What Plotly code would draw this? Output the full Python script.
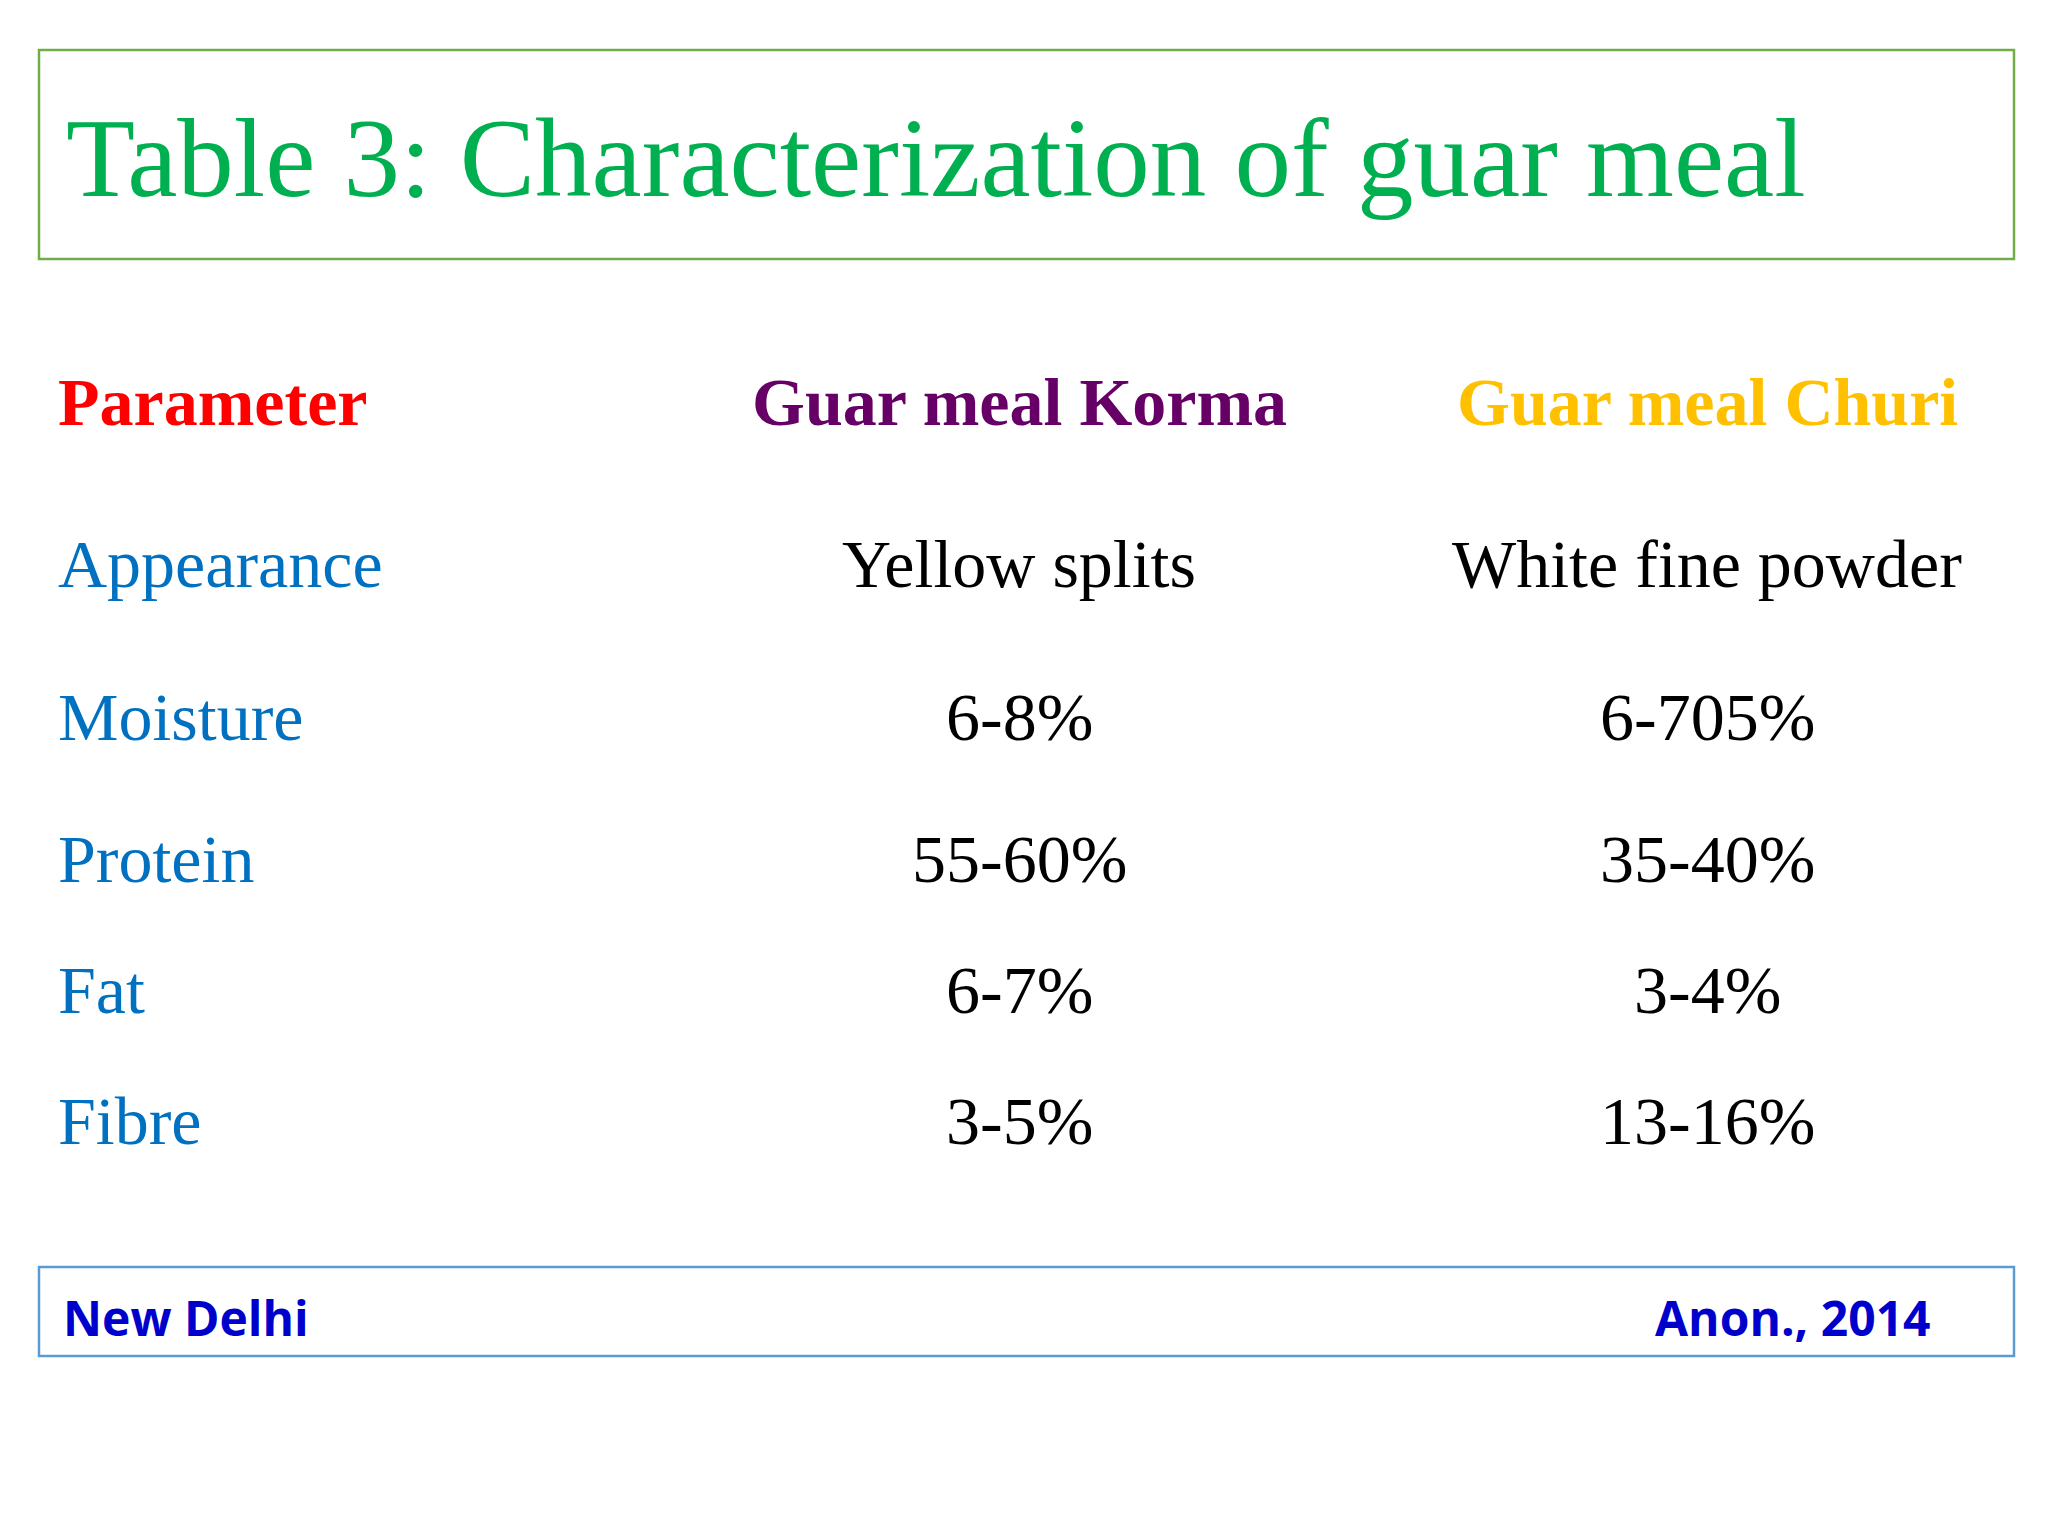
import plotly.graph_objects as go

title = "Table 3: Characterization of guar meal"
headers = ["Parameter", "Guar meal Korma", "Guar meal Churi"]
parameters = ["Appearance", "Moisture", "Protein", "Fat", "Fibre"]
korma = ["Yellow splits", "6-8%", "55-60%", "6-7%", "3-5%"]
churi = ["White fine powder", "6-705%", "35-40%", "3-4%", "13-16%"]
footer_left = "New Delhi"
footer_right = "Anon., 2014"

W, H = 2048, 1536
fig = go.Figure()
fig.add_trace(go.Scatter(x=[0], y=[0], mode="markers", marker=dict(opacity=0), hoverinfo="skip", showlegend=False))

serif = "Liberation Serif"
ann = []
ann.append(dict(x=56, y=149, text=title, xanchor="left", yanchor="middle",
                font=dict(family=serif, size=113, color="#00B050")))
hcols = ["#FF0000", "#660066", "#FFC000"]
hx = [48, 1011, 1699]
hanc = ["left", "center", "center"]
for h, c, x, a in zip(headers, hcols, hx, hanc):
    ann.append(dict(x=x, y=394, text="<b>%s</b>" % h, xanchor=a, yanchor="middle",
                    font=dict(family=serif, size=68, color=c)))
row_y = [556, 709, 851, 982, 1113]
for p, k, c, y in zip(parameters, korma, churi, row_y):
    ann.append(dict(x=48, y=y, text=p, xanchor="left", yanchor="middle",
                    font=dict(family=serif, size=68, color="#0070C0")))
    ann.append(dict(x=1011, y=y, text=k, xanchor="center", yanchor="middle",
                    font=dict(family=serif, size=68, color="black")))
    ann.append(dict(x=1699, y=y, text=c, xanchor="center", yanchor="middle",
                    font=dict(family=serif, size=68, color="black")))
ann.append(dict(x=53, y=1309, text="<b>%s</b>" % footer_left, xanchor="left", yanchor="middle",
                font=dict(family="Open Sans", size=48, color="#0000CC")))
ann.append(dict(x=1925, y=1309, text="<b>%s</b>" % footer_right, xanchor="right", yanchor="middle",
                font=dict(family="Open Sans", size=48, color="#0000CC")))
for a in ann:
    a.update(xref="x", yref="y", showarrow=False)

shapes = [
    dict(type="rect", xref="x", yref="y", x0=31, x1=2006, y0=42, y1=251,
         line=dict(color="#70AD47", width=2.5)),
    dict(type="rect", xref="x", yref="y", x0=31, x1=2006, y0=1259, y1=1348,
         line=dict(color="#5B9BD5", width=2.5)),
]

fig.update_layout(width=W, height=H, margin=dict(l=0, r=0, t=0, b=0),
                  paper_bgcolor="white", plot_bgcolor="white",
                  xaxis=dict(range=[0, W], visible=False, fixedrange=True),
                  yaxis=dict(range=[H, 0], visible=False, fixedrange=True),
                  annotations=ann, shapes=shapes, showlegend=False)
fig.write_html("out.html")
